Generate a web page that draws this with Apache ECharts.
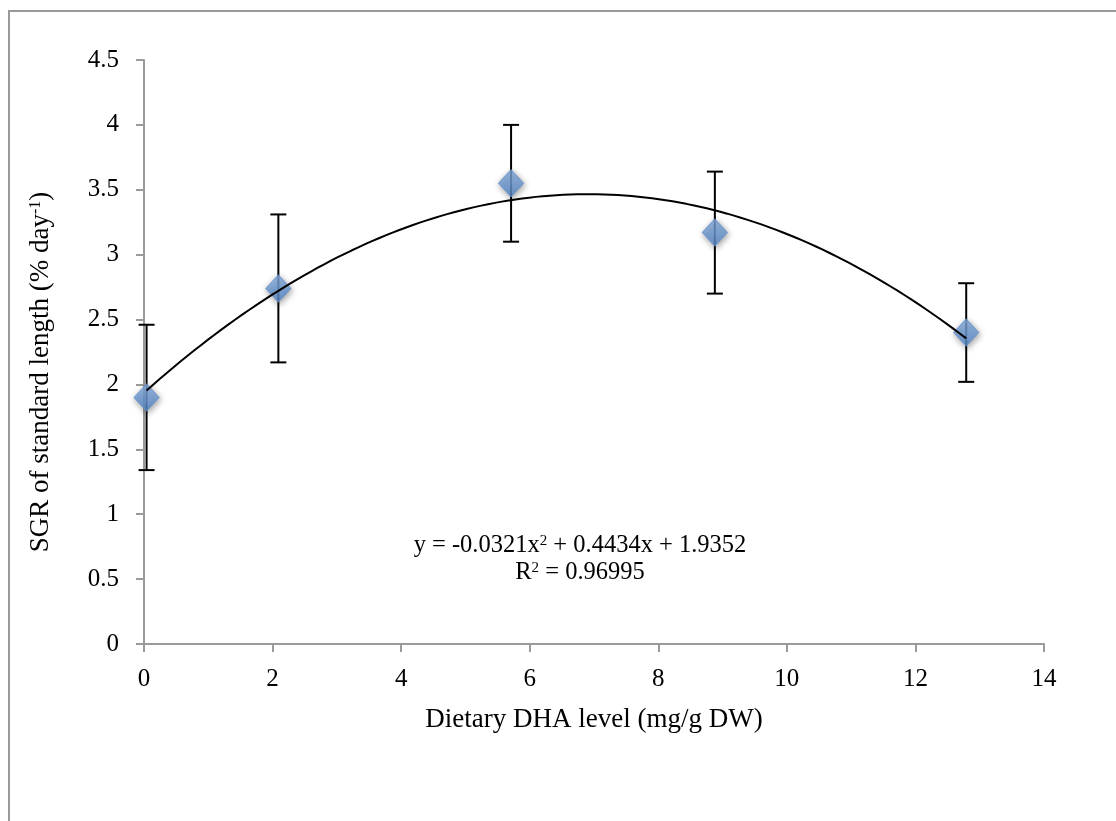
<!DOCTYPE html>
<html>
<head>
<meta charset="utf-8">
<script src="https://cdn.jsdelivr.net/npm/echarts@6/dist/echarts.min.js"></script>
<style>
  html, body { margin: 0; padding: 0; background: #fff; }
  #chart { width: 1116px; height: 821px; }
</style>
</head>
<body>
<div id="chart"></div>
<script>
// Dietary DHA level (mg/g DW) for each diet group
const dhaLevels = [0.04, 2.09, 5.71, 8.88, 12.79];
// Mean SGR of standard length (% day^-1)
const sgrMeans = [1.90, 2.74, 3.55, 3.17, 2.40];
// Error bar half-widths
const sgrErrors = [0.56, 0.57, 0.45, 0.47, 0.38];
// Quadratic trend: y = a x^2 + b x + c
const trendCoefs = [-0.0321, 0.4434, 1.9352];
const rSquared = '0.96995';
const yTicks = ['0', '0.5', '1', '1.5', '2', '2.5', '3', '3.5', '4', '4.5'];
const xTicks = ['0', '2', '4', '6', '8', '10', '12', '14'];

const FONT = '"Liberation Serif", "DejaVu Serif", serif';
const AXIS_GREY = '#9a9a9a';

const points = dhaLevels.map((x, i) => [x, sgrMeans[i]]);
const bars = dhaLevels.map((x, i) => [x, sgrMeans[i] - sgrErrors[i], sgrMeans[i] + sgrErrors[i]]);

// Sample the fitted polynomial between the first and last diet level
const trend = [];
const x0 = dhaLevels[0], x1 = dhaLevels[dhaLevels.length - 1];
const steps = 120;
for (let k = 0; k <= steps; k++) {
  const x = x0 + (x1 - x0) * k / steps;
  trend.push([x, trendCoefs[0] * x * x + trendCoefs[1] * x + trendCoefs[2]]);
}

const fmt = v => {
  const a = Math.abs(v);
  return (v < 0 ? '-' : '') + a.toFixed(4);
};
const eqText = 'y = ' + fmt(trendCoefs[0]) + 'x{sup|2} + ' + trendCoefs[1].toFixed(4) +
  'x + ' + trendCoefs[2].toFixed(4);

const chart = echarts.init(document.getElementById('chart'));
chart.setOption({
  animation: false,
  backgroundColor: '#fff',
  textStyle: { fontFamily: FONT },
  grid: { left: 144, right: 72, top: 60, bottom: 177 },
  xAxis: {
    type: 'value', min: 0, max: 14, interval: 2,
    splitLine: { show: false },
    axisLine: { onZero: false, lineStyle: { color: AXIS_GREY, width: 2 } },
    axisTick: { show: true, length: 8, lineStyle: { color: AXIS_GREY, width: 2 } },
    axisLabel: {
      color: '#000', fontSize: 25, fontFamily: FONT, margin: 23,
      formatter: v => xTicks[Math.round(v / 2)]
    },
    name: 'Dietary DHA level (mg/g DW)',
    nameLocation: 'middle', nameGap: 62,
    nameTextStyle: { color: '#000', fontSize: 27, fontFamily: FONT }
  },
  yAxis: {
    type: 'value', min: 0, max: 4.5, interval: 0.5,
    splitLine: { show: false },
    axisLine: { lineStyle: { color: AXIS_GREY, width: 2 } },
    axisTick: { show: true, length: 8, lineStyle: { color: AXIS_GREY, width: 2 } },
    axisLabel: {
      color: '#000', fontSize: 25, fontFamily: FONT, margin: 25,
      formatter: v => yTicks[Math.round(v / 0.5)]
    }
  },
  graphic: [
    {
      type: 'rect', silent: true, z: -10,
      shape: { x: 9, y: 11, width: 1300, height: 1000 },
      style: { fill: 'none', stroke: AXIS_GREY, lineWidth: 2 }
    },
    {
      type: 'text', x: 41, y: 372, rotation: Math.PI / 2,
      style: {
        text: 'SGR of standard length (% day{sup|-1})',
        x: 0, y: 0, align: 'center', verticalAlign: 'middle',
        fill: '#000', fontSize: 27, fontFamily: FONT,
        rich: { sup: { fontSize: 16, padding: [0, 0, 11, 0], fontFamily: FONT } }
      }
    },
    {
      type: 'text', x: 580, y: 546,
      style: {
        text: eqText,
        x: 0, y: 0, align: 'center', verticalAlign: 'middle',
        fill: '#000', fontSize: 24.5, fontFamily: FONT,
        rich: { sup: { fontSize: 15, padding: [0, 0, 10, 0], fontFamily: FONT } }
      }
    },
    {
      type: 'text', x: 580, y: 573,
      style: {
        text: 'R{sup|2} = ' + rSquared,
        x: 0, y: 0, align: 'center', verticalAlign: 'middle',
        fill: '#000', fontSize: 24.5, fontFamily: FONT,
        rich: { sup: { fontSize: 15, padding: [0, 0, 10, 0], fontFamily: FONT } }
      }
    }
  ],
  series: [
    {
      type: 'custom', z: 1, clip: false,
      data: bars,
      renderItem: function (params, api) {
        const x = api.value(0);
        const lo = api.coord([x, api.value(1)]);
        const hi = api.coord([x, api.value(2)]);
        const cap = 8;
        const st = { stroke: '#000', lineWidth: 2 };
        return {
          type: 'group',
          children: [
            { type: 'line', shape: { x1: lo[0], y1: lo[1], x2: hi[0], y2: hi[1] }, style: st },
            { type: 'line', shape: { x1: hi[0] - cap, y1: hi[1], x2: hi[0] + cap, y2: hi[1] }, style: st },
            { type: 'line', shape: { x1: lo[0] - cap, y1: lo[1], x2: lo[0] + cap, y2: lo[1] }, style: st }
          ]
        };
      }
    },
    {
      type: 'scatter', z: 2,
      data: points,
      symbol: 'diamond',
      symbolSize: [25, 27],
      itemStyle: {
        color: new echarts.graphic.LinearGradient(0, 0, 0, 1, [
          { offset: 0, color: '#8db4e6' },
          { offset: 1, color: '#5589cc' }
        ]),
        borderColor: '#6492cf', borderWidth: 1,
        shadowBlur: 6, shadowColor: 'rgba(0,0,0,0.45)', shadowOffsetX: 1, shadowOffsetY: 2
      }
    },
    {
      type: 'line', z: 3,
      data: trend,
      showSymbol: false, symbol: 'none',
      lineStyle: { color: '#000', width: 2 },
      smooth: false
    }
  ]
});
</script>
</body>
</html>
